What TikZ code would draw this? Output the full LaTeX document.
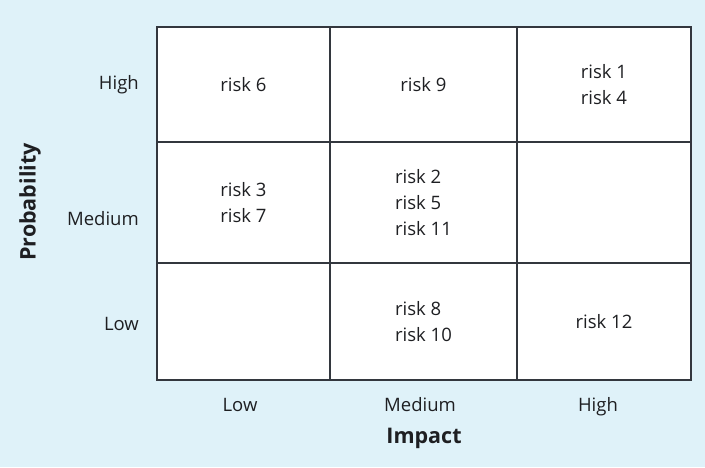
\documentclass[tikz,border=0pt]{standalone}
\usepackage{fontspec}
\setmainfont{Open Sans}
\definecolor{bgc}{HTML}{DFF2F9}
\definecolor{gridc}{HTML}{33373E}
\definecolor{txtc}{HTML}{1E1F22}
\begin{document}
\begin{tikzpicture}[x=1pt,y=-1pt,
  cell/.style={draw=gridc,line width=2pt,fill=white,minimum width=#1,inner sep=0pt,
    font=\fontsize{18.5}{26}\selectfont,text=txtc,align=left},
  cell/.default=100pt,
  lab/.style={font=\fontsize{18.5}{22}\selectfont,text=txtc,inner sep=0pt},
  axis/.style={font=\fontsize{21.5}{26}\selectfont\bfseries,text=txtc,inner sep=0pt}]
\fill[bgc] (0,0) rectangle (705,467);
\useasboundingbox (0,0) rectangle (705,467);
% columns: 157-330, 330-517, 517-691 ; rows: 27-142, 142-263, 263-380
\node[cell=173pt,minimum height=115pt] (c11) at (243.5,84.5) {risk 6};
\node[cell=187pt,minimum height=115pt] (c12) at (423.5,84.5) {risk 9};
\node[cell=174pt,minimum height=115pt] (c13) at (604,84.5) {risk 1\\risk 4};
\node[cell=173pt,minimum height=121pt] (c21) at (243.5,202.5) {risk 3\\risk 7};
\node[cell=187pt,minimum height=121pt] (c22) at (423.5,202.5) {risk 2\\risk 5\\risk 11};
\node[cell=174pt,minimum height=121pt] (c23) at (604,202.5) {};
\node[cell=173pt,minimum height=117pt] (c31) at (243.5,321.5) {};
\node[cell=187pt,minimum height=117pt] (c32) at (423.5,321.5) {risk 8\\risk 10};
\node[cell=174pt,minimum height=117pt] (c33) at (604,321.5) {risk 12};
% row labels
\node[lab,anchor=base east] (rh) at (139,89) {High};
\node[lab,anchor=base east] (rm) at (139,225) {Medium};
\node[lab,anchor=base east] (rl) at (139,330) {Low};
% column labels
\node[lab,anchor=base] (cl) at (240,411) {Low};
\node[lab,anchor=base] (cm) at (420,411) {Medium};
\node[lab,anchor=base] (ch) at (598,411) {High};
% axis titles
\node[axis] (imp) at (424,438) {Impact};
\node[axis,rotate=90] (prob) at (30,202) {Probability};
\end{tikzpicture}
\end{document}
